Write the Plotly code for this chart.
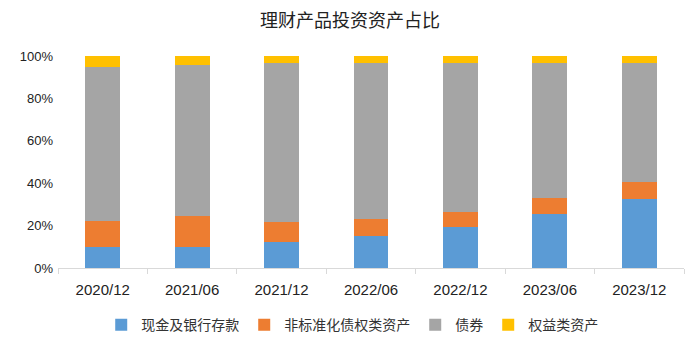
import plotly.graph_objects as go

categories = ["2020/12", "2021/06", "2021/12", "2022/06", "2022/12", "2023/06", "2023/12"]
cash = [10.0, 10.0, 12.5, 15.3, 19.2, 25.7, 32.7]
nonstd = [12.1, 14.3, 9.1, 7.6, 7.3, 7.3, 7.8]
bonds = [72.9, 71.6, 75.0, 73.7, 70.1, 63.6, 56.1]
equity = [5.0, 4.1, 3.4, 3.4, 3.4, 3.4, 3.4]

series = [
    ("现金及银行存款", cash, "#5B9BD5"),
    ("非标准化债权类资产", nonstd, "#ED7D31"),
    ("债券", bonds, "#A5A5A5"),
    ("权益类资产", equity, "#FFC000"),
]

font_family = "Noto Sans CJK SC, Noto Sans, sans-serif"

fig = go.Figure()
for name, vals, color in series:
    fig.add_trace(go.Bar(
        x=categories, y=[v / 100 for v in vals], name=name,
        marker=dict(color=color, line=dict(width=0)),
    ))

fig.update_layout(
    width=700, height=353,
    barmode="stack", bargap=0.61,
    plot_bgcolor="white", paper_bgcolor="white",
    margin=dict(l=58, r=16, t=56, b=83),
    title=dict(text="理财产品投资资产占比", x=0.5, xanchor="center", y=0.94, yanchor="middle",
               font=dict(family=font_family, size=18, color="#222222")),
    font=dict(family=font_family, color="#222222"),
    legend=dict(orientation="h", x=0.47, xanchor="center", y=-0.27, yanchor="middle",
                traceorder="normal", font=dict(size=14, color="#333333"),
                itemwidth=30, tracegroupgap=0),
    showlegend=True,
)
fig.update_xaxes(
    showline=True, linecolor="#D9D9D9", linewidth=1,
    ticks="outside", tickson="boundaries", ticklen=5, tickcolor="#D9D9D9",
    ticklabelstandoff=8,
    tickfont=dict(size=15, color="#222222", family="Liberation Sans, Arial, sans-serif"),
    showgrid=False,
)
fig.update_yaxes(
    range=[0, 1], tickformat=".0%", dtick=0.2, showgrid=False, zeroline=False,
    showline=False, ticklabelstandoff=4,
    tickfont=dict(size=13, color="#222222", family="Liberation Sans, Arial, sans-serif"),
)

fig.write_html("out.html")
